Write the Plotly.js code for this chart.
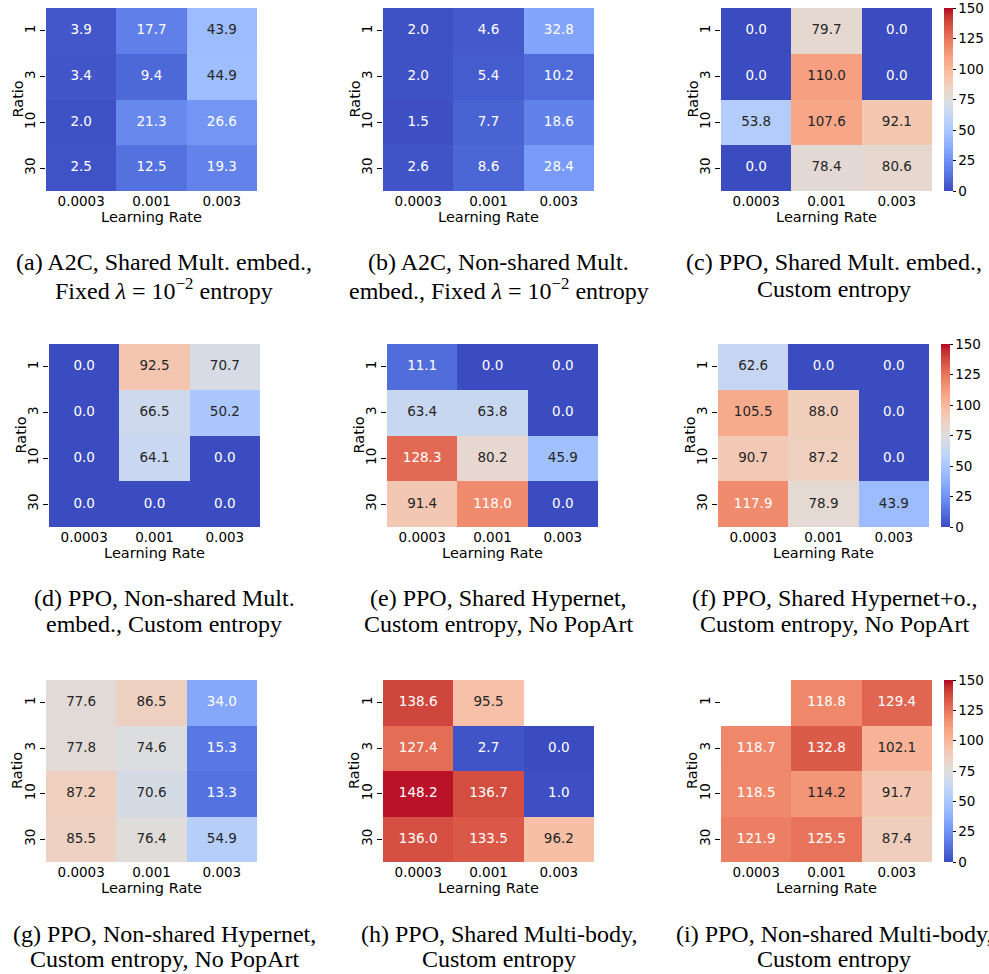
<!DOCTYPE html>
<html><head><meta charset="utf-8">
<script src="https://cdn.plot.ly/plotly-3.0.1.min.js"></script>
<style>html,body{margin:0;padding:0;background:#fff}#chart{width:989px;height:974px}</style>
</head><body><div id="chart"></div>
<script>
// ---- data ----
const learningRates = ['0.0003', '0.001', '0.003'];
const ratios = ['1', '3', '10', '30'];
const colorbarTicks = [0, 25, 50, 75, 100, 125, 150];

const panelA = [[3.9, 17.7, 43.9], [3.4, 9.4, 44.9], [2.0, 21.3, 26.6], [2.5, 12.5, 19.3]];
const panelB = [[2.0, 4.6, 32.8], [2.0, 5.4, 10.2], [1.5, 7.7, 18.6], [2.6, 8.6, 28.4]];
const panelC = [[0.0, 79.7, 0.0], [0.0, 110.0, 0.0], [53.8, 107.6, 92.1], [0.0, 78.4, 80.6]];
const panelD = [[0.0, 92.5, 70.7], [0.0, 66.5, 50.2], [0.0, 64.1, 0.0], [0.0, 0.0, 0.0]];
const panelE = [[11.1, 0.0, 0.0], [63.4, 63.8, 0.0], [128.3, 80.2, 45.9], [91.4, 118.0, 0.0]];
const panelF = [[62.6, 0.0, 0.0], [105.5, 88.0, 0.0], [90.7, 87.2, 0.0], [117.9, 78.9, 43.9]];
const panelG = [[77.6, 86.5, 34.0], [77.8, 74.6, 15.3], [87.2, 70.6, 13.3], [85.5, 76.4, 54.9]];
const panelH = [[138.6, 95.5, null], [127.4, 2.7, 0.0], [148.2, 136.7, 1.0], [136.0, 133.5, 96.2]];
const panelI = [[null, 118.8, 129.4], [118.7, 132.8, 102.1], [118.5, 114.2, 91.7], [121.9, 125.5, 87.4]];

const captionA = ['(a) A2C, Shared Mult. embed.,', 'Fixed <i>λ</i> = 10<sup>−2</sup> entropy'];
const captionB = ['(b) A2C, Non-shared Mult.', 'embed., Fixed <i>λ</i> = 10<sup>−2</sup> entropy'];
const captionC = ['(c) PPO, Shared Mult. embed.,', 'Custom entropy'];
const captionD = ['(d) PPO, Non-shared Mult.', 'embed., Custom entropy'];
const captionE = ['(e) PPO, Shared Hypernet,', 'Custom entropy, No PopArt'];
const captionF = ['(f) PPO, Shared Hypernet+o.,', 'Custom entropy, No PopArt'];
const captionG = ['(g) PPO, Non-shared Hypernet,', 'Custom entropy, No PopArt'];
const captionH = ['(h) PPO, Shared Multi-body,', 'Custom entropy'];
const captionI = ['(i) PPO, Non-shared Multi-body,', 'Custom entropy'];

const xTitle = 'Learning Rate';
const yTitle = 'Ratio';

const panels = [panelA, panelB, panelC, panelD, panelE, panelF, panelG, panelH, panelI];
const captions = [captionA, captionB, captionC, captionD, captionE, captionF, captionG, captionH, captionI];

// ---- geometry (pixels) ----
const W = 989, H = 974;
const boxes = [
  [46, 257, 8, 191], [383, 594, 8, 191], [721, 932, 8, 191],
  [49, 260, 344, 527], [387, 598, 344, 527], [718, 929, 344, 527],
  [46, 257, 680, 862], [383, 594, 680, 862], [721, 932, 680, 862]
];
const colorbarX = [944, 941, 944];
const captionX = [164, 499, 834];
const captionY = [[262, 289], [598, 624], [934, 959]];
const yTitleOffset = 29;

// matplotlib coolwarm (Moreland smooth cool-warm)
const cw = [[59,76,192],[68,90,204],[77,104,215],[87,117,225],[98,130,234],[108,142,241],[119,154,247],[130,165,251],[141,176,254],[152,185,255],[163,194,255],[174,201,253],[184,208,249],[194,213,244],[204,217,238],[213,219,230],[221,221,221],[229,216,209],[236,211,197],[241,204,185],[245,196,173],[247,187,160],[247,177,148],[247,166,135],[244,154,123],[241,141,111],[236,127,99],[229,112,88],[222,96,77],[213,80,66],[203,62,56],[192,40,47],[180,4,38]];
const colorscale = cw.map((c, i) => [i / (cw.length - 1), `rgb(${c[0]},${c[1]},${c[2]})`]);
function colorAt(t) {
  t = Math.max(0, Math.min(1, t));
  const p = t * (cw.length - 1), i = Math.min(Math.floor(p), cw.length - 2), f = p - i;
  return [0, 1, 2].map(k => cw[i][k] + (cw[i + 1][k] - cw[i][k]) * f);
}
function lum(rgb) {
  const l = rgb.map(v => { v /= 255; return v <= 0.03928 ? v / 12.92 : Math.pow((v + 0.055) / 1.055, 2.4); });
  return 0.2126 * l[0] + 0.7152 * l[1] + 0.0722 * l[2];
}

const sans = 'DejaVu Sans, sans-serif';
const ink = '#000000';
const data = [];
const layout = {
  width: W, height: H, margin: {l: 0, r: 0, t: 0, b: 0, autoexpand: false},
  paper_bgcolor: '#ffffff', plot_bgcolor: '#ffffff', showlegend: false,
  annotations: []
};

panels.forEach((z, p) => {
  const n = p === 0 ? '' : String(p + 1);
  const [l, r, t, b] = boxes[p];
  const col = p % 3, row = Math.floor(p / 3);
  layout['xaxis' + n] = {
    domain: [l / W, r / W], anchor: 'y' + n, type: 'category',
    categoryorder: 'array', categoryarray: learningRates, range: [-0.5, 2.5],
    showgrid: false, zeroline: false, showline: false,
    ticks: '', ticklen: 0, automargin: true,
    tickfont: {family: sans, size: 13.5, color: ink},
    title: {text: xTitle, font: {family: sans, size: 14.5, color: ink}, standoff: 4},
    fixedrange: true
  };
  layout['yaxis' + n] = {
    domain: [1 - b / H, 1 - t / H], anchor: 'x' + n, type: 'category',
    categoryorder: 'array', categoryarray: ratios, range: [3.5, -0.5],
    showgrid: false, zeroline: false, showline: false,
    ticks: 'outside', ticklen: 5, tickwidth: 1, tickcolor: ink, tickangle: -90,
    tickfont: {family: sans, size: 13.5, color: ink},
    fixedrange: true
  };
  // y-axis title, placed beside its axis
  layout.annotations.push({
    xref: 'paper', yref: 'paper', x: (l - yTitleOffset) / W, y: 1 - (t + b) / 2 / H,
    xanchor: 'center', yanchor: 'middle', textangle: -90, showarrow: false, text: yTitle,
    font: {family: sans, size: 14.5, color: ink}
  });
  const hm = {
    type: 'heatmap', x: learningRates, y: ratios, z: z,
    xaxis: 'x' + n, yaxis: 'y' + n, zmin: 0, zmax: 150, colorscale: colorscale,
    showscale: col === 2, hoverinfo: 'skip'
  };
  if (col === 2) {
    hm.colorbar = {
      x: colorbarX[row] / W, xanchor: 'left', xref: 'paper',
      y: 1 - (t + b) / 2 / H, yanchor: 'middle', yref: 'paper',
      len: b - t, lenmode: 'pixels', thickness: 9, thicknessmode: 'pixels',
      xpad: 0, ypad: 0, outlinewidth: 0, ticklabeloverflow: 'allow',
      tickmode: 'array', tickvals: colorbarTicks,
      ticks: 'outside', ticklen: 3, tickwidth: 1, tickcolor: ink,
      tickfont: {family: sans, size: 13.5, color: ink}
    };
  }
  data.push(hm);
  const tx = [], ty = [], tt = [], tc = [];
  z.forEach((rowv, i) => rowv.forEach((v, j) => {
    if (v === null) return;
    tx.push(learningRates[j]); ty.push(ratios[i]); tt.push(v.toFixed(1));
    tc.push(lum(colorAt(v / 150)) > 0.408 ? '#262626' : '#ffffff');
  }));
  data.push({
    type: 'scatter', mode: 'text', x: tx, y: ty, text: tt,
    xaxis: 'x' + n, yaxis: 'y' + n, hoverinfo: 'skip', cliponaxis: false,
    textfont: {family: sans, size: 13.5, color: tc}
  });
  captions[p].forEach((line, k) => {
    layout.annotations.push({
      xref: 'paper', yref: 'paper', x: captionX[col] / W, y: 1 - captionY[row][k] / H,
      xanchor: 'center', yanchor: 'middle', showarrow: false, text: line,
      font: {family: 'Liberation Serif, Times New Roman, serif', size: 24, color: ink}
    });
  });
});

Plotly.newPlot('chart', data, layout, {displayModeBar: false, staticPlot: true});
</script></body></html>
